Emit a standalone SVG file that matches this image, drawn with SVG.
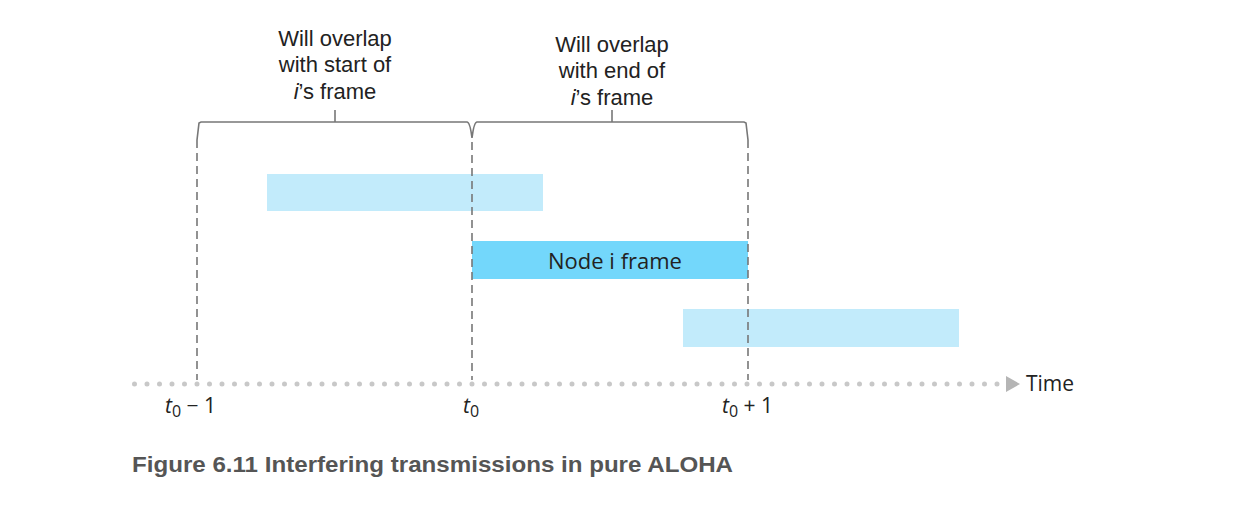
<svg xmlns="http://www.w3.org/2000/svg" width="1239" height="509" viewBox="0 0 1239 509">
<style>
.lbl{font-family:"Open Sans","Noto Sans",sans-serif;font-size:22px;fill:#222;text-anchor:middle}
.top{font-family:"Liberation Sans",Arial,sans-serif;font-size:22px;fill:#222;text-anchor:middle}
.dash{stroke:#777;stroke-width:1.6;stroke-dasharray:8,5;fill:none}
.br{stroke:#777;stroke-width:1.6;fill:none}
.t{font-family:"Open Sans","Noto Sans",sans-serif;font-size:21px;fill:#222}
</style>
<rect width="1239" height="509" fill="#fff"/>
<g id="frame-early">
<rect x="267" y="174" width="276" height="37" fill="#c2ebfb"/>
</g>
<g id="node-i">
<rect x="472" y="241" width="276" height="38" fill="#73d7fb"/>
<text class="lbl" x="615" y="269">Node i frame</text>
</g>
<g id="frame-late">
<rect x="683" y="309" width="276" height="38" fill="#c2ebfb"/>
</g>
<g id="connectors">
<line class="dash" x1="197" y1="140" x2="197" y2="380"/>
<line class="dash" x1="472" y1="142" x2="472" y2="380"/>
<line class="dash" x1="748" y1="140" x2="748" y2="380"/>
<path class="br" d="M197,140 L199,123 L201,122 L467,122 Q470,122 472,138 Q474,122 477,122 L744,122 L746,123 L748,140"/>
<line class="br" x1="335" y1="122" x2="335" y2="110"/>
<line class="br" x1="612" y1="122" x2="612" y2="110"/>
<line x1="134.5" y1="384" x2="998" y2="384" stroke="#c8c8c8" stroke-width="5" stroke-linecap="round" stroke-dasharray="0,12.5"/>
<polygon points="1006,376 1020,384 1006,392" fill="#b5b5b5"/>
</g>
<g id="label-start">
<text class="top" x="335" y="46">Will overlap</text>
<text class="top" x="335" y="72">with start of</text>
<text class="top" x="335" y="99"><tspan font-style="italic">i</tspan>’s frame</text>
</g>
<g id="label-end">
<text class="top" x="612" y="52">Will overlap</text>
<text class="top" x="612" y="78">with end of</text>
<text class="top" x="612" y="105"><tspan font-style="italic">i</tspan>’s frame</text>
</g>
<g id="time-label">
<text class="t" x="1026" y="391">Time</text>
</g>
<g id="ticks">
<text class="t" x="165" y="413"><tspan font-style="italic">t</tspan><tspan font-size="16" dy="4">0</tspan><tspan dy="-4"> − 1</tspan></text>
<text class="t" x="463" y="413"><tspan font-style="italic">t</tspan><tspan font-size="16" dy="4">0</tspan></text>
<text class="t" x="722" y="413"><tspan font-style="italic">t</tspan><tspan font-size="16" dy="4">0</tspan><tspan dy="-4"> + 1</tspan></text>
</g>
<g id="caption">
<text x="132" y="472" font-family="Liberation Sans, Arial, sans-serif" font-size="22" font-weight="bold" fill="#555" textLength="601" lengthAdjust="spacingAndGlyphs">Figure 6.11 Interfering transmissions in pure ALOHA</text>
</g>
</svg>
